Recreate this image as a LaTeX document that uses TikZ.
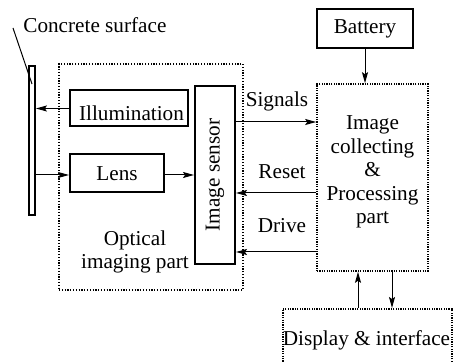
\documentclass[tikz,border=0pt]{standalone}
\usepackage{fontspec}
\setmainfont{Liberation Serif}
\usetikzlibrary{arrows.meta}
\begin{document}
\begin{tikzpicture}[x=0.5pt,y=-0.5pt,
  font=\fontsize{10.6}{11.8}\selectfont,
  solidbox/.style={draw, line width=1pt, inner sep=0pt, align=center},
  dotbox/.style={draw, line width=0.8pt, dash pattern=on 0.6pt off 0.6pt, inner sep=0pt, align=center},
  arr/.style={-{Stealth[length=5.5pt,width=3pt,inset=1pt]}, line width=0.5pt},
  lbl/.style={inner sep=0pt, align=center}]
\useasboundingbox (0,0) rectangle (460,362);
\clip (0,0) rectangle (460,362);
% concrete surface
\node[solidbox, line width=0.9pt, minimum width=3pt, minimum height=74.5pt] (plate) at (32,140.5) {};
\node[lbl, anchor=base west] (conc) at (23,33) {Concrete surface};
\coordinate (ptr) at (13,28);
\draw[line width=0.5pt] (ptr) -- (32,84);
% optical imaging part
\node[dotbox, line width=0.6pt, dash pattern=on 0.6pt off 0.8pt, minimum width=92pt, minimum height=113pt] (optical) at (151,177) {};
\node[lbl] (opttext) at (135,252) {Optical\\imaging part};
\node[solidbox, minimum width=59pt, minimum height=18pt] (illum) at (129,108.5) {};
\node[lbl] (illumtext) at (131.5,113) {Illumination};
\node[solidbox, minimum width=47pt, minimum height=19pt] (lens) at (117,173.5) {Lens};
\node[solidbox, minimum width=20pt, minimum height=89pt] (sensor) at (215,175) {\rotatebox{90}{Image sensor}};
% processing
\node[dotbox, minimum width=55.5pt, minimum height=93.5pt] (proc) at (372.5,177.5) {};
\node[lbl] (proctext) at (372.5,172) {Image\\collecting\\\&\\Processing\\part};
\node[solidbox, minimum width=48pt, minimum height=19.5pt] (batt) at (365,28.5) {Battery};
\node[dotbox, minimum width=84.5pt, minimum height=32pt, anchor=north west] (disp) at (282,308) {};
\node[lbl, anchor=base] (disptext) at (366.5,346) {Display \& interface};
% arrows
\draw[arr] (illum.west) -- (plate.east |- illum.west);
\draw[arr] (plate.east |- 0,175) -- (lens.west |- 0,175);
\draw[arr] (lens.east |- 0,175) -- (sensor.west |- 0,175);
\draw[arr] (sensor.east |- 0,122) -- (proc.west |- 0,122);
\draw[arr] (proc.west |- 0,193) -- (sensor.east |- 0,193);
\draw[arr] (proc.west |- 0,252) -- (sensor.east |- 0,252);
\node[lbl, anchor=base] (sig) at (277,107) {Signals};
\node[lbl, anchor=base] (rst) at (282,179) {Reset};
\node[lbl, anchor=base] (drv) at (282,233) {Drive};
\draw[arr] (batt.south) -- (batt.south |- proc.north);
\draw[arr] (disp.north -| 358,0) -- (proc.south -| 358,0);
\draw[arr] (proc.south -| 392,0) -- (disp.north -| 392,0);
\end{tikzpicture}
\end{document}
